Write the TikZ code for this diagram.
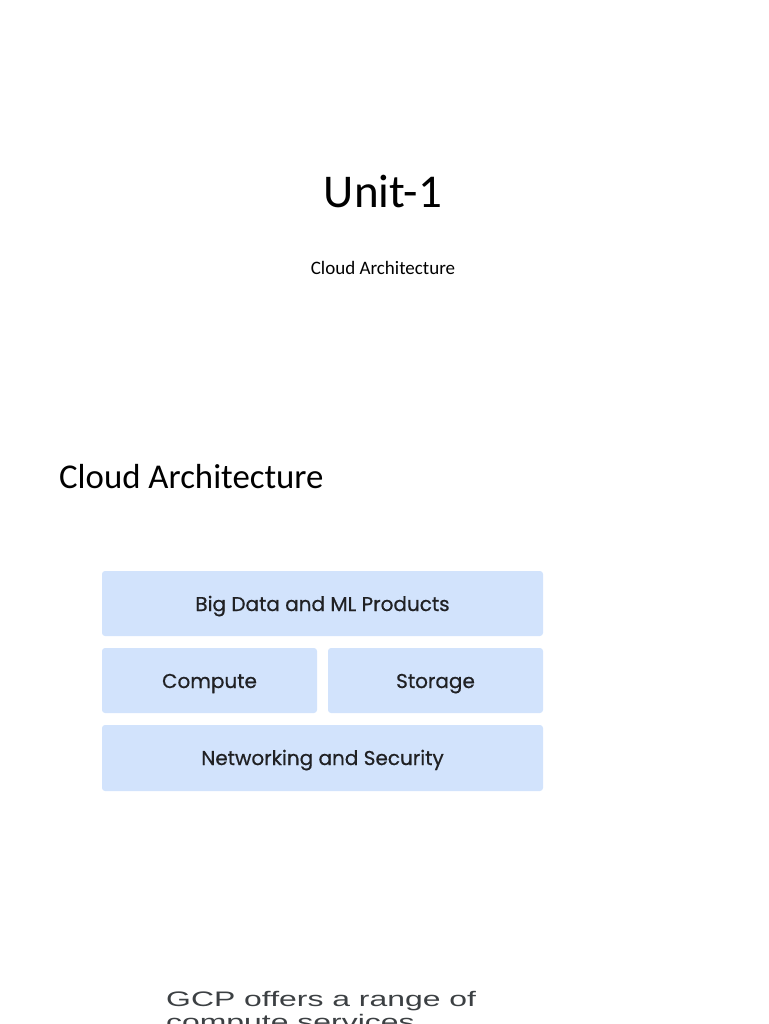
\documentclass[tikz,border=0pt]{standalone}
\usepackage{fontspec}
\setmainfont{Carlito}
\newfontfamily\boxfont[FakeBold=0.6]{Poppins}
\newfontfamily\capfont{Liberation Sans}
\definecolor{boxblue}{HTML}{D2E3FC}
\definecolor{boxtext}{HTML}{202124}
\definecolor{captext}{HTML}{3C4043}
\begin{document}
\begin{tikzpicture}[x=1pt,y=-1pt,
  layer/.style={fill=boxblue, draw=none, rounded corners=3pt},
  layertext/.style={font=\boxfont\fontsize{20}{24}\selectfont, text=boxtext, anchor=base},
  title/.style={anchor=base, text=black},
  captxt/.style={anchor=base west, inner sep=0pt, text=captext, font=\capfont\fontsize{21}{24}\selectfont}]
\useasboundingbox (0,0) rectangle (768,1024);
\clip (0,0) rectangle (768,1024);
\node[title, font=\fontsize{47}{52}\selectfont] (unit) at (383,208) {Unit-1};
\node[title, font=\fontsize{19}{22}\selectfont] (sub) at (383,274) {Cloud Architecture};
\node[anchor=base west, inner sep=0pt, font=\fontsize{34.8}{38}\selectfont] (head) at (59,488) {Cloud Architecture};
\fill[layer] (102,571) rectangle (543,636);
\fill[layer] (102,648) rectangle (317,713);
\fill[layer] (328,648) rectangle (543,713);
\fill[layer] (102,725) rectangle (543,791);
\node[layertext] (bd) at (322.5,611) {Big Data and ML Products};
\node[layertext] (cp) at (209.5,688) {Compute};
\node[layertext] (st) at (435.5,688) {Storage};
\node[layertext] (ns) at (322.5,765) {Networking and Security};
\node[captxt] (gcp) at (166,1006) {\scalebox{1.52}[1]{GCP offers a range of}};
\node[captxt] (gcp2) at (166,1029) {\scalebox{1.52}[1]{compute services}};
\end{tikzpicture}
\end{document}
